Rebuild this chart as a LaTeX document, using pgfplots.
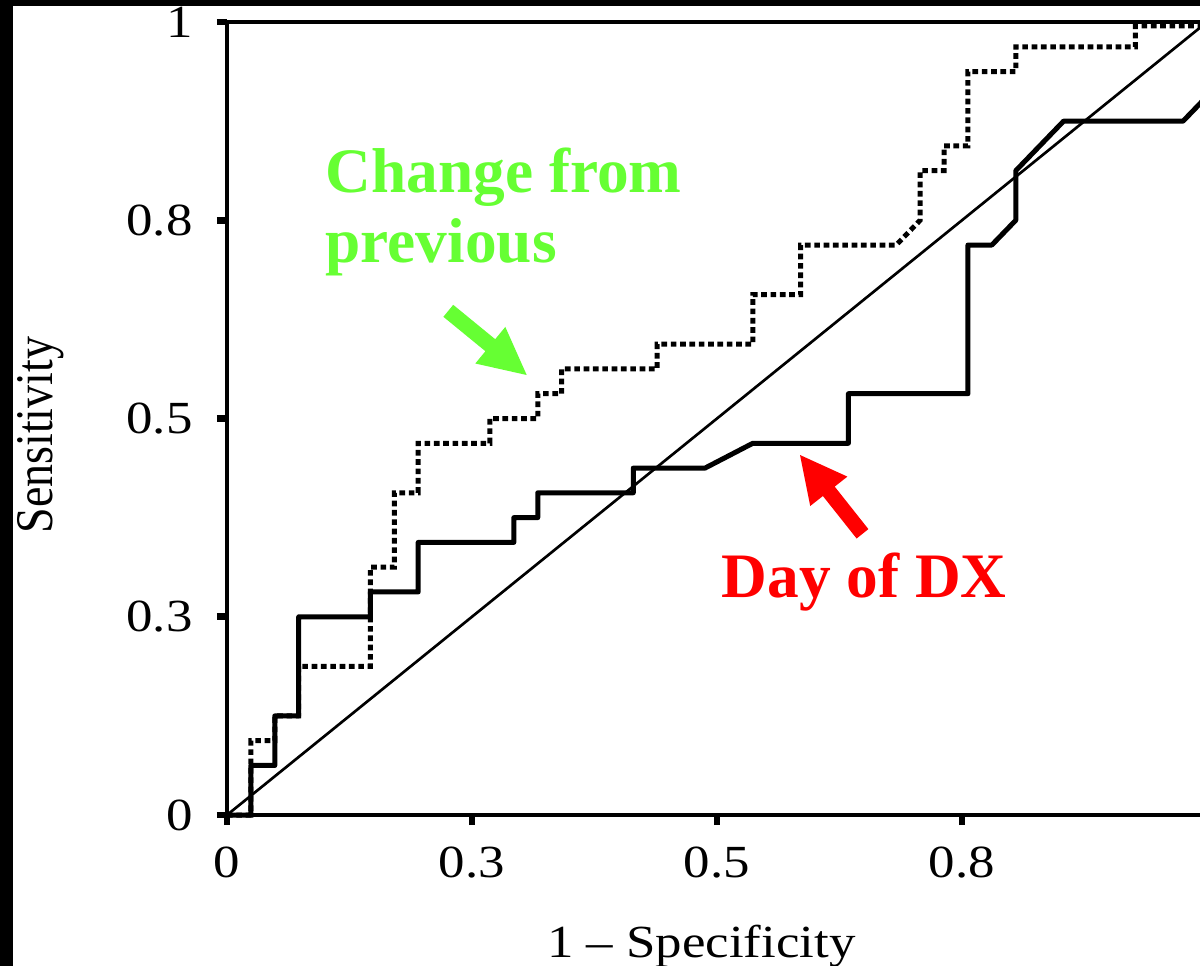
\documentclass[border=0pt]{standalone}
\usepackage{graphicx}
\usepackage{fontspec}
\setmainfont{Liberation Serif}[FakeStretch=1.15]
\newfontfamily\annotfont{Liberation Serif}
\newfontfamily\ylabfont{Liberation Serif}
\usepackage{pgfplots}
\pgfplotsset{compat=1.18}
\definecolor{annotgreen}{RGB}{102,255,51}
\definecolor{annotred}{RGB}{255,0,0}
\begin{document}
\begin{tikzpicture}
\useasboundingbox (0,0) rectangle (360pt,-289.8pt);
\clip (0,0) rectangle (360pt,-289.8pt);
\fill[white] (0,0) rectangle (360pt,-289.8pt);
\begin{axis}[
  at={(68.1pt,-244.5pt)}, anchor=south west,
  scale only axis, width=294pt, height=237.9pt,
  xmin=0, xmax=1, ymin=0, ymax=1,
  axis line style={line width=1.3pt},
  xtick={0,0.25,0.5,0.75}, xticklabels={0,0.3,0.5,0.8},
  ytick={0,0.25,0.5,0.75,1}, yticklabels={0,0.3,0.5,0.8,1},
  xtick pos=lower, ytick pos=left,
  tick align=outside, major tick length=3pt,
  tick style={line width=2pt, black},
  ticklabel style={font=\fontsize{13.8}{16}\selectfont},
  xticklabel style={yshift=-3pt},
  yticklabel style={xshift=-3.8pt},
  xlabel={1 -- Specificity},
  ylabel={\ylabfont\scalebox{1}[1.15]{Sensitivity}},
  xlabel style={at={(rel axis cs:0.484,-0.180)}, anchor=base, font=\fontsize{13.8}{16}\selectfont},
  ylabel style={at={(rel axis cs:-0.1776,0.479)}, anchor=base, font=\fontsize{13.8}{16}\selectfont},
  clip=false,
]
\addplot[black, line width=0.8pt] coordinates {(0,0) (1,1)};
\addplot[black, line width=1.5pt, line join=round] coordinates {
(0,0) (0.0244,0) (0.0244,0.0625) (0.0488,0.0625) (0.0488,0.125) (0.0732,0.125)
(0.0732,0.25) (0.1463,0.25) (0.1463,0.2813) (0.1951,0.2813) (0.1951,0.3438)
(0.2927,0.3438) (0.2927,0.375) (0.3171,0.375) (0.3171,0.4063) (0.4146,0.4063)
(0.4146,0.4375) (0.4878,0.4375) (0.5366,0.4688) (0.6341,0.4688) (0.6341,0.5313)
(0.7561,0.5313) (0.7561,0.7188) (0.7805,0.7188) (0.8049,0.75) (0.8049,0.8125)
(0.8537,0.875) (0.9756,0.875) (1,0.9063) (1,1)};
\addplot[black, line width=1.5pt, dash pattern=on 1.7pt off 1.1pt] coordinates {
(0,0) (0.0244,0) (0.0244,0.0938) (0.0488,0.0938) (0.0488,0.125) (0.0732,0.125)
(0.0732,0.1875) (0.1463,0.1875) (0.1463,0.3125) (0.1707,0.3125) (0.1707,0.4063)
(0.1951,0.4063) (0.1951,0.4688) (0.2683,0.4688) (0.2683,0.5) (0.3171,0.5)
(0.3171,0.5313) (0.3415,0.5313) (0.3415,0.5625) (0.439,0.5625) (0.439,0.5938)
(0.5366,0.5938) (0.5366,0.6563) (0.5854,0.6563) (0.5854,0.7188) (0.6829,0.7188)
(0.7073,0.75) (0.7073,0.8125) (0.7317,0.8125) (0.7317,0.8438) (0.7561,0.8438)
(0.7561,0.9375) (0.8049,0.9375) (0.8049,0.9688) (0.9268,0.9688) (0.9268,0.995)
(1,0.995)};
\end{axis}
\begin{scope}[x=0.3pt,y=-0.3pt]
\node[anchor=base west, inner sep=0pt, text=annotgreen, font=\annotfont\bfseries\fontsize{19}{21}\selectfont] at (325,192) {Change from};
\node[anchor=base west, inner sep=0pt, text=annotgreen, font=\annotfont\bfseries\fontsize{19}{21}\selectfont] at (325,262) {previous};
\node[anchor=base west, inner sep=0pt, text=annotred, font=\annotfont\bfseries\fontsize{19}{21}\selectfont] at (721,597) {Day of DX};
\fill[annotgreen] (443.4,316.8) -- (485.4,351.2) -- (475.3,363.5) -- (526.7,375) -- (505.3,326.9) -- (495.2,339.2) -- (453.2,304.8) -- cycle;
\fill[annotred] (868.4,529.1) -- (834.7,486.6) -- (847.4,476.6) -- (800,455) -- (810.2,506.0) -- (822.9,496.0) -- (856.6,538.5) -- cycle;
\fill[black] (0,0) rectangle (1200,6);
\fill[black] (0,0) rectangle (13,966);
\end{scope}
\end{tikzpicture}
\end{document}
